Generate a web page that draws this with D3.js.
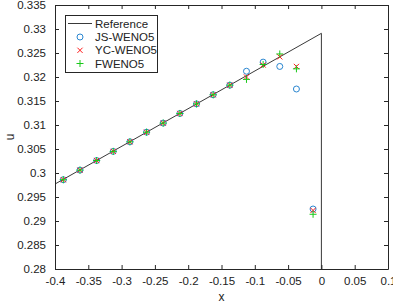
<!DOCTYPE html>
<html>
<head>
<meta charset="utf-8">
<script src="https://cdn.jsdelivr.net/npm/d3@7"></script>
<style>
  body { margin: 0; background: #fff; }
  text { font-family: "Liberation Sans", Arial, sans-serif; }
</style>
</head>
<body>
<svg id="chart" width="393" height="303"></svg>
<script>
// cell centres
var xs = [-0.3875, -0.3625, -0.3375, -0.3125, -0.2875, -0.2625, -0.2375, -0.2125,
          -0.1875, -0.1625, -0.1375, -0.1125, -0.0875, -0.0625, -0.0375, -0.0125];

// scheme results
var jsWeno = [0.2986, 0.3006, 0.3026, 0.3045, 0.3065, 0.3085, 0.3104, 0.3124,
              0.3144, 0.3163, 0.3183, 0.3212, 0.3231, 0.3222, 0.3175, 0.2925];
var ycWeno = [0.2986, 0.3006, 0.3026, 0.3045, 0.3065, 0.3085, 0.3104, 0.3124,
              0.3144, 0.3163, 0.3183, 0.3200, 0.3225, 0.3242, 0.3222, 0.2922];
var fWeno  = [0.2986, 0.3006, 0.3026, 0.3045, 0.3065, 0.3085, 0.3104, 0.3124,
              0.3144, 0.3163, 0.3183, 0.3195, 0.3226, 0.3248, 0.3217, 0.2914];

// reference solution (linear ramp then drop at x = 0)
var refX = [-0.4, 0, 0];
var refU = [0.2977, 0.3291, 0.27];

var xTicks = [-0.4, -0.35, -0.3, -0.25, -0.2, -0.15, -0.1, -0.05, 0, 0.05, 0.1];
var yTicks = [0.28, 0.285, 0.29, 0.295, 0.3, 0.305, 0.31, 0.315, 0.32, 0.325, 0.33, 0.335];

var seriesNames = ["Reference", "JS-WENO5", "YC-WENO5", "FWENO5"];

var m = { left: 55, right: 5, top: 5, bottom: 34 };
var W = 393, H = 303;
var svg = d3.select("#chart");

var scX = d3.scaleLinear().domain([-0.4, 0.1]).range([m.left, W - m.right]),
    scY = d3.scaleLinear().domain([0.28, 0.335]).range([H - m.bottom, m.top]);

var axisCol = "#262626";
var fmt = d => String(+d.toFixed(3));

// clip for plot area
svg.append("clipPath").attr("id", "clip")
  .append("rect").attr("x", m.left).attr("y", m.top)
  .attr("width", W - m.left - m.right).attr("height", H - m.top - m.bottom);

// axes: ticks pointing inward, on all four sides
var gx = svg.append("g").attr("transform", "translate(0," + (H - m.bottom) + ")")
  .call(d3.axisBottom(scX).tickValues(xTicks).tickFormat(fmt).tickSizeInner(-4).tickSizeOuter(0).tickPadding(8));
var gxt = svg.append("g").attr("transform", "translate(0," + m.top + ")")
  .call(d3.axisTop(scX).tickValues(xTicks).tickFormat("").tickSizeInner(-4).tickSizeOuter(0));
var gy = svg.append("g").attr("transform", "translate(" + m.left + ",0)")
  .call(d3.axisLeft(scY).tickValues(yTicks).tickFormat(fmt).tickSizeInner(-4).tickSizeOuter(0).tickPadding(9));
var gyr = svg.append("g").attr("transform", "translate(" + (W - m.right) + ",0)")
  .call(d3.axisRight(scY).tickValues(yTicks).tickFormat("").tickSizeInner(-4).tickSizeOuter(0));

[gx, gxt, gy, gyr].forEach(g => {
  g.select(".domain").attr("stroke", axisCol);
  g.selectAll(".tick line").attr("stroke", axisCol);
  g.selectAll("text").attr("fill", "#222").style("font-size", "11.5px")
    .style("font-family", "'Liberation Sans', Arial, sans-serif");
});

svg.append("text").attr("x", (m.left + W - m.right) / 2).attr("y", 300.5)
  .attr("text-anchor", "middle").style("font-size", "12px").attr("fill", "#222").text("x");
svg.append("text").attr("transform", "translate(14," + ((m.top + H - m.bottom) / 2) + ") rotate(-90)")
  .attr("text-anchor", "middle").style("font-size", "12px").attr("fill", "#222").text("u");

var plot = svg.append("g").attr("clip-path", "url(#clip)");

// reference line
var line = d3.line().x(d => scX(d[0])).y(d => scY(d[1]));
plot.append("path").datum(refX.map((x, i) => [x, refU[i]]))
  .attr("d", line).attr("fill", "none").attr("stroke", "#222").attr("stroke-width", 0.9);

var blue = "#2a86d0", red = "#ff1a1a", green = "#19c819";

function pts(vals) { return xs.map((x, i) => [x, vals[i]]); }

plot.selectAll("circle.js").data(pts(jsWeno)).enter().append("circle")
  .attr("cx", d => scX(d[0])).attr("cy", d => scY(d[1])).attr("r", 3)
  .attr("fill", "none").attr("stroke", blue).attr("stroke-width", 1);

var s = 2.6;
plot.selectAll("path.yc").data(pts(ycWeno)).enter().append("path")
  .attr("d", d => { var x = scX(d[0]), y = scY(d[1]);
    return "M" + (x - s) + "," + (y - s) + "L" + (x + s) + "," + (y + s) +
           "M" + (x - s) + "," + (y + s) + "L" + (x + s) + "," + (y - s); })
  .attr("stroke", red).attr("stroke-width", 1).attr("fill", "none");

var p = 3.5;
plot.selectAll("path.fw").data(pts(fWeno)).enter().append("path")
  .attr("d", d => { var x = scX(d[0]), y = scY(d[1]);
    return "M" + (x - p) + "," + y + "L" + (x + p) + "," + y +
           "M" + x + "," + (y - p) + "L" + x + "," + (y + p); })
  .attr("stroke", green).attr("stroke-width", 1).attr("fill", "none");

// legend
var lg = svg.append("g");
lg.append("rect").attr("x", 65.5).attr("y", 15.5).attr("width", 92).attr("height", 57)
  .attr("fill", "#fff").attr("stroke", axisCol).attr("stroke-width", 1);
var rowY = [23.5, 37, 50.3, 63.5];
lg.append("line").attr("x1", 68).attr("x2", 92).attr("y1", rowY[0]).attr("y2", rowY[0])
  .attr("stroke", "#222").attr("stroke-width", 0.9);
lg.append("circle").attr("cx", 80).attr("cy", rowY[1]).attr("r", 3)
  .attr("fill", "none").attr("stroke", blue);
lg.append("path").attr("d", "M" + (80 - s) + "," + (rowY[2] - s) + "L" + (80 + s) + "," + (rowY[2] + s) +
  "M" + (80 - s) + "," + (rowY[2] + s) + "L" + (80 + s) + "," + (rowY[2] - s)).attr("stroke", red);
lg.append("path").attr("d", "M" + (80 - p) + "," + rowY[3] + "L" + (80 + p) + "," + rowY[3] +
  "M80," + (rowY[3] - p) + "L80," + (rowY[3] + p)).attr("stroke", green);
lg.selectAll("text.lab").data(seriesNames).enter().append("text")
  .attr("x", 95).attr("y", (d, i) => rowY[i]).attr("dy", "0.35em")
  .style("font-size", "11.5px").attr("fill", "#222").text(d => d);
</script>
</body>
</html>
